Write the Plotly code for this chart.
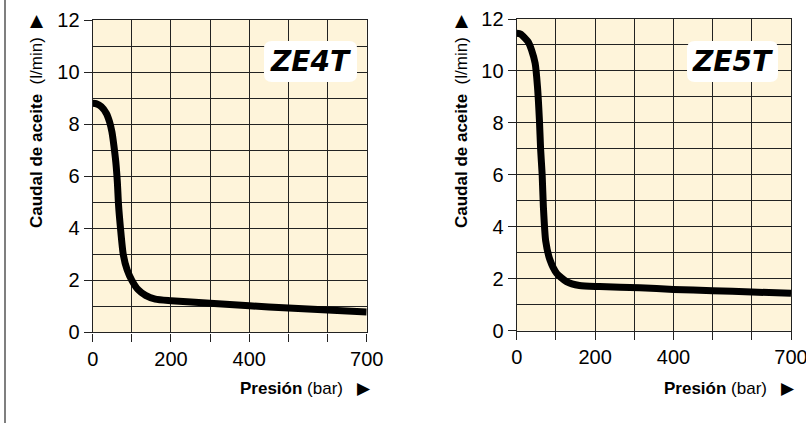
import plotly.graph_objects as go

# ---- data ----
ze4t_pressure = [0, 10, 22, 35, 43, 49, 54, 59, 63, 66, 71, 78, 88, 100, 116, 135, 160, 200, 300, 400, 500, 600, 700]
ze4t_flow = [8.8, 8.78, 8.67, 8.41, 8.09, 7.71, 7.19, 6.55, 5.77, 4.9, 4.0, 3.0, 2.4, 2.0, 1.64, 1.42, 1.28, 1.22, 1.12, 1.02, 0.94, 0.86, 0.78]

ze5t_pressure = [0, 10, 21, 30, 38, 47, 53, 58, 61, 65, 68, 74, 85, 102, 127, 160, 212, 314, 400, 500, 600, 700]
ze5t_flow = [11.45, 11.42, 11.26, 11.1, 10.8, 10.3, 9.4, 8.1, 7.0, 6.0, 4.8, 3.45, 2.72, 2.21, 1.89, 1.74, 1.70, 1.65, 1.59, 1.54, 1.49, 1.44]

x_tickvals = [0, 100, 200, 300, 400, 500, 600, 700]
x_ticktext = ["0", "", "200", "", "400", "", "", "700"]
y_tickvals = [0, 2, 4, 6, 8, 10, 12]
y_ticktext = ["0", "2", "4", "6", "8", "10", "12"]

model_labels = ["ZE4T", "ZE5T"]
y_title = "Caudal de aceite"
y_unit = "(l/min)"
x_title = "Presión"
x_unit = "(bar)"

W, H = 806, 423
BG = "#FEF4DA"
GRID = "#222222"
FONT = "Liberation Sans, Arial, sans-serif"

def px(x):
    return x / W

def py(y):
    return (H - y) / H

fig = go.Figure()
fig.add_trace(go.Scatter(x=ze4t_pressure, y=ze4t_flow, mode="lines",
                         line=dict(color="black", width=7, shape="spline", smoothing=0.6),
                         xaxis="x", yaxis="y", showlegend=False, hoverinfo="skip"))
fig.add_trace(go.Scatter(x=ze5t_pressure, y=ze5t_flow, mode="lines",
                         line=dict(color="black", width=7, shape="spline", smoothing=0.6),
                         xaxis="x2", yaxis="y2", showlegend=False, hoverinfo="skip"))

def xaxis(domain, anchor):
    return dict(domain=domain, anchor=anchor, range=[0, 700], tickmode="array",
                tickvals=x_tickvals, ticktext=x_ticktext, ticks="outside", ticklen=8,
                tickcolor=GRID, showgrid=True, gridcolor=GRID, gridwidth=1,
                showline=True, linecolor=GRID, linewidth=1.2, mirror=True,
                zeroline=False, tickfont=dict(family=FONT, size=20, color="black"),
                ticklabeloverflow="allow", automargin=False, fixedrange=True)

def yaxis(domain, anchor):
    return dict(domain=domain, anchor=anchor, range=[0, 12], tickmode="array",
                tickvals=y_tickvals, ticktext=y_ticktext, ticks="outside", ticklen=8,
                tickcolor=GRID, showgrid=True, gridcolor=GRID, gridwidth=1,
                minor=dict(dtick=1, showgrid=True, gridcolor=GRID, gridwidth=1, ticks=""),
                showline=True, linecolor=GRID, linewidth=1.2, mirror=True,
                zeroline=False, tickfont=dict(family=FONT, size=20, color="black"),
                ticklabeloverflow="allow", automargin=False, fixedrange=True)

fig.update_layout(
    width=W, height=H, margin=dict(l=0, r=0, t=0, b=0, autoexpand=False),
    paper_bgcolor="white", plot_bgcolor=BG,
    xaxis=xaxis([px(92.7), px(366.7)], "y"),
    yaxis=yaxis([py(332.4), py(20)], "x"),
    xaxis2=xaxis([px(516.7), px(791)], "y2"),
    yaxis2=yaxis([py(330.7), py(19)], "x2"),
)

def rounded_box(x0, y0, x1, y1, r):
    rx, ry = r / W, r / H
    X0, X1 = px(x0), px(x1)
    Yt, Yb = py(y0), py(y1)
    return (f"M {X0+rx},{Yt} L {X1-rx},{Yt} Q {X1},{Yt} {X1},{Yt-ry} "
            f"L {X1},{Yb+ry} Q {X1},{Yb} {X1-rx},{Yb} L {X0+rx},{Yb} "
            f"Q {X0},{Yb} {X0},{Yb+ry} L {X0},{Yt-ry} Q {X0},{Yt} {X0+rx},{Yt} Z")

shapes = [
    dict(type="line", xref="paper", yref="paper", x0=px(5), x1=px(5), y0=0, y1=1,
         line=dict(color="#555555", width=1.5)),
]
annotations = []
boxes = [(264, 357), (687, 778)]
for (bx0, bx1), label in zip(boxes, model_labels):
    shapes.append(dict(type="path", xref="paper", yref="paper",
                       path=rounded_box(bx0, 41, bx1, 82, 8),
                       fillcolor="white", line=dict(width=0), layer="above"))
    annotations.append(dict(xref="paper", yref="paper", x=px((bx0 + bx1) / 2), y=py(61.5),
                            text=f"<b><i>{label}</i></b>", showarrow=False,
                            font=dict(family="DejaVu Sans", size=28, color="black"),
                            xanchor="center", yanchor="middle"))

# y-axis titles and arrows
for xt in (36, 461):
    annotations.append(dict(xref="paper", yref="paper", x=px(xt), y=py(133),
                            text=f"<b>{y_title}</b>\u00a0\u00a0{y_unit}", textangle=-90,
                            showarrow=False, font=dict(family=FONT, size=17, color="black"),
                            xanchor="center", yanchor="middle"))
    annotations.append(dict(xref="paper", yref="paper", x=px(xt + 1), y=py(20),
                            text="▲", showarrow=False,
                            font=dict(family="DejaVu Sans", size=17, color="black"),
                            xanchor="center", yanchor="middle"))

# x-axis titles
for xr in (373, 797):
    annotations.append(dict(xref="paper", yref="paper", x=px(xr), y=py(388),
                            text=f"<b>{x_title}</b> {x_unit}\u00a0\u00a0\u00a0▶",
                            showarrow=False, font=dict(family=FONT, size=17, color="black"),
                            xanchor="right", yanchor="middle"))

fig.update_layout(shapes=shapes, annotations=annotations)
fig.write_html("out.html", config={"displayModeBar": False},
               post_script="document.body.style.margin='0';document.body.style.overflow='hidden';")
